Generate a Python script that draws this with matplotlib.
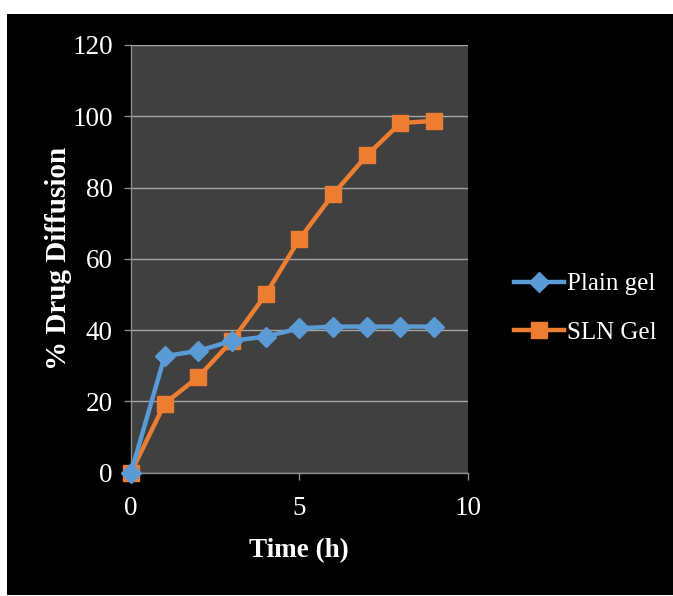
import matplotlib
matplotlib.use("Agg")
import matplotlib.pyplot as plt
from matplotlib.patches import Rectangle

time_h = [0, 1, 2, 3, 4, 5, 6, 7, 8, 9]
plain_gel = [0, 32.7, 34.2, 37.0, 38.2, 40.5, 41.0, 41.0, 41.0, 41.0]
sln_gel = [0, 19.4, 26.9, 37.0, 50.0, 65.5, 78.1, 89.0, 98.1, 98.7]
series_names = ["Plain gel", "SLN Gel"]
x_ticks = [0, 5, 10]
y_ticks = [0, 20, 40, 60, 80, 100, 120]

plt.rcParams['font.family'] = ['Liberation Serif', 'DejaVu Serif']

W, H = 673, 596
fig = plt.figure(figsize=(W / 100, H / 100), dpi=100, facecolor='white')
fig.patches.append(Rectangle((7 / W, 1 / H), 1 - 7 / W, 1 - 15 / H,
                             transform=fig.transFigure, facecolor='black',
                             edgecolor='none', zorder=-10))

ax = fig.add_axes([131 / W, 1 - 472.7 / H, (467.7 - 131) / W, (472.7 - 45) / H])
ax.set_facecolor('#404040')

blue = '#5B9BD5'
orange = '#ED7D31'
ax.plot(time_h, plain_gel, color=blue, lw=3.2, marker='D', markersize=10,
        markeredgecolor=blue, label=series_names[0], clip_on=False, zorder=4)
ax.plot(time_h, sln_gel, color=orange, lw=3.2, marker='s', markersize=12,
        markeredgecolor=orange, label=series_names[1], clip_on=False, zorder=3)

ax.set_xlim(0, 10)
ax.set_ylim(0, 120)
ax.set_xticks(x_ticks)
ax.set_yticks(y_ticks)
ax.grid(axis='y', color='#A6A6A6', lw=1.0)
ax.set_axisbelow(True)
for s in ['top', 'right']:
    ax.spines[s].set_visible(False)
for s in ['left', 'bottom']:
    ax.spines[s].set_color('#8C8C8C')
    ax.spines[s].set_linewidth(1.0)
ax.tick_params(axis='both', colors='#8C8C8C', labelcolor='white',
               labelsize=19.5, length=5, width=1)
ax.tick_params(axis='y', pad=8)
ax.tick_params(axis='x', pad=12)

ax.set_xlabel("Time (h)", color='white', fontsize=19.5, fontweight='bold', labelpad=12)
ax.set_ylabel("% Drug Diffusion", color='white', fontsize=21, fontweight='bold', labelpad=0)

leg = ax.legend(loc='center left', bbox_to_anchor=(491 / W, 1 - 308.5 / H),
                bbox_transform=fig.transFigure, frameon=False,
                fontsize=18, labelcolor='white', handlelength=2.0,
                handletextpad=0.15, labelspacing=1.05)

fig.savefig("out.png", dpi=100, facecolor=fig.get_facecolor())
